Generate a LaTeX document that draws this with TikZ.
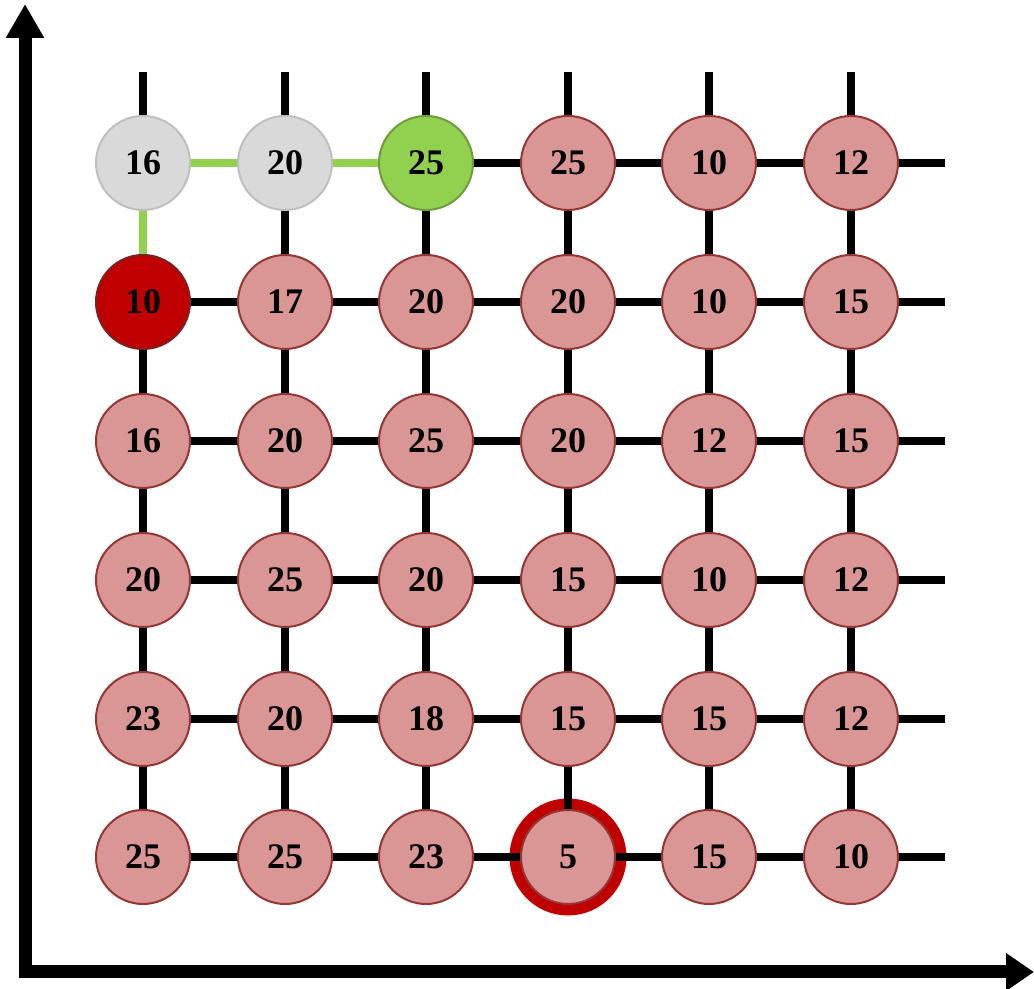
\documentclass[tikz,border=0pt]{standalone}
\usepackage{fontspec}
\setmainfont{Liberation Serif}
\usetikzlibrary{arrows.meta,backgrounds}

\definecolor{cellpink}{HTML}{D99694}
\definecolor{cellrim}{HTML}{943634}
\definecolor{seengray}{HTML}{D9D9D9}
\definecolor{seenrim}{HTML}{BFBFBF}
\definecolor{bestgreen}{HTML}{92D050}
\definecolor{bestrim}{HTML}{6F9C3C}
\definecolor{startred}{HTML}{C00000}
\definecolor{startrim}{HTML}{7A2222}

\tikzset{
  cell/.style={circle, draw=cellrim, fill=cellpink, line width=1pt,
    minimum size=47pt, inner sep=0pt, font=\fontsize{18}{18}\selectfont\bfseries},
  seen/.style={draw=seenrim, fill=seengray},
  best/.style={draw=bestrim, fill=bestgreen},
  start/.style={draw=startrim, fill=startred},
  lowest/.style={draw=startred, line width=5.5pt},
  link/.style={line width=4pt, black},
  route/.style={draw=bestgreen},
  axis/.style={line width=6.5pt, line join=miter},
  % green links of the route
  h11/.style={route}, h12/.style={route}, v11/.style={route}
}

\begin{document}
\begin{tikzpicture}[x=0.5pt,y=0.5pt]
  \useasboundingbox (0,0) rectangle (1034,989);

  % axes
  \coordinate (origin) at (25,17);
  \coordinate (yend) at (25,985);
  \coordinate (xend) at (1034,17);
  \draw[axis, {Triangle[width=18pt,length=17pt]}-{Triangle[width=18pt,length=14pt]}]
    (yend) -- (origin) -- (xend);

  % row 1
  \node[cell, seen] (n11) at (143, 826) {16};
  \node[cell, seen] (n12) at (285, 826) {20};
  \node[cell, best] (n13) at (426, 826) {25};
  \node[cell] (n14) at (568, 826) {25};
  \node[cell] (n15) at (709, 826) {10};
  \node[cell] (n16) at (851, 826) {12};
  % row 2
  \node[cell, start] (n21) at (143, 687) {10};
  \node[cell] (n22) at (285, 687) {17};
  \node[cell] (n23) at (426, 687) {20};
  \node[cell] (n24) at (568, 687) {20};
  \node[cell] (n25) at (709, 687) {10};
  \node[cell] (n26) at (851, 687) {15};
  % row 3
  \node[cell] (n31) at (143, 548) {16};
  \node[cell] (n32) at (285, 548) {20};
  \node[cell] (n33) at (426, 548) {25};
  \node[cell] (n34) at (568, 548) {20};
  \node[cell] (n35) at (709, 548) {12};
  \node[cell] (n36) at (851, 548) {15};
  % row 4
  \node[cell] (n41) at (143, 409) {20};
  \node[cell] (n42) at (285, 409) {25};
  \node[cell] (n43) at (426, 409) {20};
  \node[cell] (n44) at (568, 409) {15};
  \node[cell] (n45) at (709, 409) {10};
  \node[cell] (n46) at (851, 409) {12};
  % row 5
  \node[cell] (n51) at (143, 270) {23};
  \node[cell] (n52) at (285, 270) {20};
  \node[cell] (n53) at (426, 270) {18};
  \node[cell] (n54) at (568, 270) {15};
  \node[cell] (n55) at (709, 270) {15};
  \node[cell] (n56) at (851, 270) {12};
  % row 6
  \node[cell] (n61) at (143, 132) {25};
  \node[cell] (n62) at (285, 132) {25};
  \node[cell] (n63) at (426, 132) {23};
  \node[cell] (n64) at (568, 132) {5};
  \node[cell] (n65) at (709, 132) {15};
  \node[cell] (n66) at (851, 132) {10};

  % ring round the smallest cell
  \begin{scope}[on background layer]
    \draw[lowest] (n64.center) circle (26.5pt);
  \end{scope}

  % open ends of the grid
  \foreach \c/\x in {1/143, 2/285, 3/426, 4/568, 5/709, 6/851}
    \coordinate (top\c) at (\x, 917);
  \foreach \r/\y in {1/826, 2/687, 3/548, 4/409, 5/270, 6/132}
    \coordinate (right\r) at (945, \y);

  % horizontal links
  \foreach \r in {1,...,6}{
    \foreach \c [count=\d from 2] in {1,...,5}
      \draw[link, h\r\c/.try] (n\r\c) -- (n\r\d);
    \draw[link] (n\r6) -- (right\r);
  }
  % vertical links
  \foreach \c in {1,...,6}{
    \draw[link] (n1\c) -- (top\c);
    \foreach \r [count=\s from 2] in {1,...,5}
      \draw[link, v\r\c/.try] (n\r\c) -- (n\s\c);
  }
\end{tikzpicture}
\end{document}
